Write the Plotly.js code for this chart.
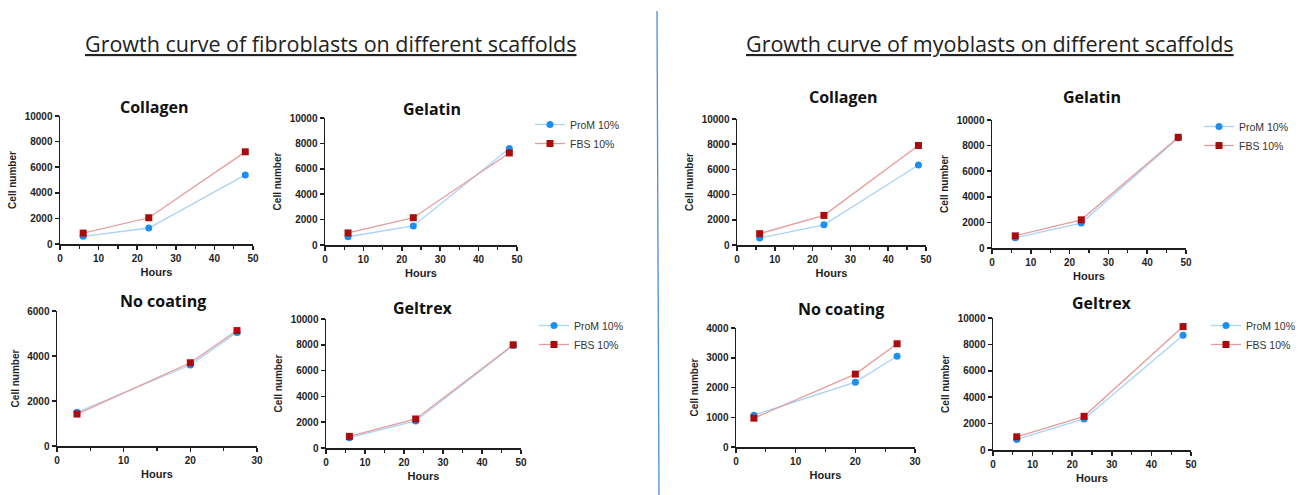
<!DOCTYPE html>
<html>
<head>
<meta charset="utf-8">
<script src="https://cdn.plot.ly/plotly-3.0.1.min.js"></script>
<style>html,body{margin:0;padding:0;background:#fff;}#chart{width:1301px;height:495px;}</style>
</head>
<body>
<div id="chart"></div>
<script>
// ---- data ----
const hoursA = [6, 23, 48];
const hoursB = [3, 20, 27];
const seriesNames = ["ProM 10%", "FBS 10%"];
const panelTitles = ["Collagen", "Gelatin", "No coating", "Geltrex"];
const mainTitles = ["Growth curve of fibroblasts on different scaffolds", "Growth curve of myoblasts on different scaffolds"];

const fibCollagenProM = [600, 1250, 5400];
const fibCollagenFBS  = [850, 2050, 7200];
const fibGelatinProM  = [650, 1500, 7600];
const fibGelatinFBS   = [950, 2150, 7250];
const fibNoCoatProM   = [1500, 3600, 5050];
const fibNoCoatFBS    = [1420, 3700, 5130];
const fibGeltrexProM  = [800, 2100, 7950];
const fibGeltrexFBS   = [900, 2250, 8000];

const myoCollagenProM = [550, 1600, 6350];
const myoCollagenFBS  = [900, 2350, 7900];
const myoGelatinProM  = [800, 1950, 8600];
const myoGelatinFBS   = [950, 2200, 8650];
const myoNoCoatProM   = [1070, 2180, 3050];
const myoNoCoatFBS    = [970, 2450, 3470];
const myoGeltrexProM  = [800, 2350, 8700];
const myoGeltrexFBS   = [1000, 2550, 9350];

// ---- layout helpers ----
const W = 1301, H = 495;
const px = v => v / W;
const py = v => 1 - v / H;

const panels = [
  {title: panelTitles[0], x: hoursA, a: fibCollagenProM, b: fibCollagenFBS, xmax: 50, ymax: 10000, ydt: 2000, dom: [60, 253, 116, 244], t: [154, 107], leg: null},
  {title: panelTitles[1], x: hoursA, a: fibGelatinProM, b: fibGelatinFBS, xmax: 50, ymax: 10000, ydt: 2000, dom: [325, 517, 118, 245], t: [432, 109], leg: [530, 110]},
  {title: panelTitles[2], x: hoursB, a: fibNoCoatProM, b: fibNoCoatFBS, xmax: 30, ymax: 6000, ydt: 2000, dom: [57, 257, 311, 446], t: [163, 301], leg: null},
  {title: panelTitles[3], x: hoursA, a: fibGeltrexProM, b: fibGeltrexFBS, xmax: 50, ymax: 10000, ydt: 2000, dom: [326, 521, 319, 448], t: [423, 308], leg: [534, 311]},
  {title: panelTitles[0], x: hoursA, a: myoCollagenProM, b: myoCollagenFBS, xmax: 50, ymax: 10000, ydt: 2000, dom: [737, 926, 119, 245], t: [843, 97], leg: null},
  {title: panelTitles[1], x: hoursA, a: myoGelatinProM, b: myoGelatinFBS, xmax: 50, ymax: 10000, ydt: 2000, dom: [992, 1186, 120, 248], t: [1092, 97], leg: [1199, 112]},
  {title: panelTitles[2], x: hoursB, a: myoNoCoatProM, b: myoNoCoatFBS, xmax: 30, ymax: 4000, ydt: 1000, dom: [736, 915, 328, 447], t: [841, 309], leg: null},
  {title: panelTitles[3], x: hoursA, a: myoGeltrexProM, b: myoGeltrexFBS, xmax: 50, ymax: 10000, ydt: 2000, dom: [993, 1191, 318, 450], t: [1102, 303], leg: [1206, 311]}
];

const blueM = "#1f8ef1", blueL = "#a8d3f7";
const redM = "#a80c0c", redL = "#e59c9c";
const axisColor = "#1e1e1e";
const tickFont = {family: "Liberation Sans, Arial, sans-serif", size: 10, color: "#1e1e1e", weight: 700};

const traces = [];
const layout = {
  width: W, height: H,
  margin: {l: 0, r: 0, t: 0, b: 0},
  paper_bgcolor: "#ffffff", plot_bgcolor: "rgba(0,0,0,0)",
  showlegend: true,
  annotations: [], shapes: []
};

let legendCount = 0;
panels.forEach((p, i) => {
  const n = i + 1;
  const xa = "xaxis" + (n === 1 ? "" : n), ya = "yaxis" + (n === 1 ? "" : n);
  const xr = "x" + (n === 1 ? "" : n), yr = "y" + (n === 1 ? "" : n);
  let legName = null;
  if (p.leg) {
    legendCount++;
    legName = "legend" + (legendCount === 1 ? "" : legendCount);
    layout[legName] = {
      x: px(p.leg[0]), y: py(p.leg[1]), xanchor: "left", yanchor: "top",
      bgcolor: "rgba(0,0,0,0)", borderwidth: 0,
      font: {family: "Liberation Sans, Arial, sans-serif", size: 10.5, color: "#333"},
      tracegroupgap: 0
    };
  }
  const common = {x: p.x, xaxis: xr, yaxis: yr, mode: "lines+markers", cliponaxis: false, hoverinfo: "skip"};
  traces.push(Object.assign({}, common, {
    y: p.a, name: seriesNames[0],
    line: {color: blueL, width: 1.3}, marker: {color: blueM, size: 7, symbol: "circle"},
    showlegend: !!legName, legend: legName || "legend"
  }));
  traces.push(Object.assign({}, common, {
    y: p.b, name: seriesNames[1],
    line: {color: redL, width: 1.3}, marker: {color: redM, size: 7, symbol: "square"},
    showlegend: !!legName, legend: legName || "legend"
  }));
  layout[xa] = {
    domain: [px(p.dom[0]), px(p.dom[1])], anchor: yr,
    range: [0, p.xmax], dtick: 10, tick0: 0,
    showgrid: false, zeroline: false, showline: true, linecolor: axisColor, linewidth: 1.5,
    ticks: "outside", ticklen: 4, tickwidth: 1.5, tickcolor: axisColor,
    minor: {ticks: "outside", ticklen: 3, tickwidth: 1.2, tickcolor: axisColor, dtick: 5, showgrid: false},
    tickfont: tickFont, fixedrange: true,
    title: {text: "Hours", font: {family: "Liberation Sans, Arial, sans-serif", size: 11, color: "#1e1e1e", weight: 700}, standoff: 6}
  };
  layout[ya] = {
    domain: [py(p.dom[3]), py(p.dom[2])], anchor: xr,
    range: [0, p.ymax], dtick: p.ydt, tick0: 0, tickformat: "d",
    showgrid: false, zeroline: false, showline: true, linecolor: axisColor, linewidth: 1.5,
    ticks: "outside", ticklen: 4, tickwidth: 1.5, tickcolor: axisColor,
    tickfont: tickFont, fixedrange: true,
    title: {text: "Cell number", font: {family: "Liberation Sans, Arial, sans-serif", size: 10, color: "#1e1e1e", weight: 700}, standoff: 6}
  };
  layout.annotations.push({
    text: "<b>" + p.title + "</b>", xref: "paper", yref: "paper",
    x: px(p.t[0]), y: py(p.t[1]), xanchor: "center", yanchor: "middle", showarrow: false,
    font: {family: "Open Sans, Noto Sans, sans-serif", size: 16, color: "#111"}
  });
});

// main titles
[[331, 43], [990, 43]].forEach((pos, k) => {
  layout.annotations.push({
    text: "<u>" + mainTitles[k] + "</u>", xref: "paper", yref: "paper",
    x: px(pos[0]), y: py(pos[1]), xanchor: "center", yanchor: "middle", showarrow: false,
    font: {family: "Open Sans, Noto Sans, sans-serif", size: 21.5, color: "#222"}
  });
});

// divider
layout.shapes.push({type: "line", xref: "paper", yref: "paper",
  x0: px(657), y0: py(11), x1: px(659), y1: py(495),
  line: {color: "#4a8fdb", width: 1.3}});

Plotly.newPlot("chart", traces, layout, {displayModeBar: false, staticPlot: true});
</script>
</body>
</html>
